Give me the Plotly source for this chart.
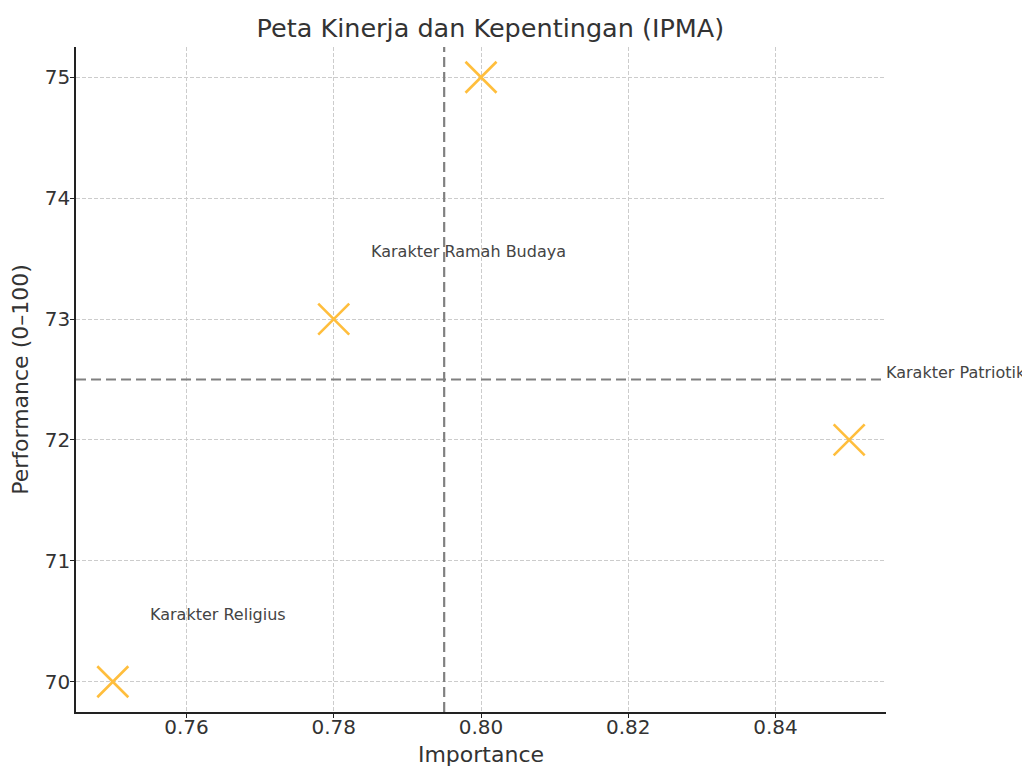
import plotly.graph_objects as go

importance = [0.75, 0.78, 0.80, 0.85]
performance = [70, 73, 75, 72]
labels = [("Karakter Religius", 0.755, 70.5),
          ("Karakter Ramah Budaya", 0.785, 73.5),
          ("Karakter Patriotik", 0.855, 72.5)]
x_mean = 0.795
y_mean = 72.5
x_ticks = [0.76, 0.78, 0.80, 0.82, 0.84]
y_ticks = [70, 71, 72, 73, 74, 75]

FONT = "DejaVu Sans"
TXT = "#333333"
fig = go.Figure()
fig.add_trace(go.Scatter(
    x=importance, y=performance, mode="markers",
    marker=dict(symbol="x-thin-open", size=31, color="#FFBE3C",
                line=dict(width=2.6, color="#FFBE3C")),
    showlegend=False, cliponaxis=False))

fig.add_shape(type="line", xref="x", yref="paper", x0=x_mean, x1=x_mean, y0=0, y1=1,
              line=dict(color="#808080", width=2.2, dash="10px,5px"))
fig.add_shape(type="line", xref="paper", yref="y", x0=0, x1=1, y0=y_mean, y1=y_mean,
              line=dict(color="#808080", width=2.2, dash="10px,5px"))

for t, x, y in labels:
    fig.add_annotation(x=x, y=y, text=t, showarrow=False, xanchor="left",
                       yanchor="middle", yshift=7, xshift=-2,
                       font=dict(family=FONT, size=16, color="#444444"))

axis_common = dict(
    showgrid=True, gridcolor="#cccccc", griddash="4px,2px", gridwidth=1,
    showline=True, linecolor="#222222", linewidth=1.5, mirror=False,
    ticks="outside", ticklen=4, tickcolor="#222222",
    tickfont=dict(size=20, family=FONT, color=TXT),
    zeroline=False, automargin=False)

fig.update_layout(
    width=1022, height=759,
    margin=dict(l=68, r=144, t=39, b=55),
    paper_bgcolor="white", plot_bgcolor="white",
    font=dict(family=FONT, color=TXT),
    title=dict(text="Peta Kinerja dan Kepentingan (IPMA)", x=0.472, xanchor="center",
               y=0.974, yanchor="middle", font=dict(size=25.5, family=FONT, color=TXT)),
    xaxis=dict(range=[0.745, 0.855], tickvals=x_ticks,
               ticktext=[f"{v:.2f}" for v in x_ticks], ticklabelstandoff=-8,
               title=dict(text="Importance", font=dict(size=22, family=FONT, color=TXT)),
               **axis_common),
    yaxis=dict(range=[69.75, 75.25], tickvals=y_ticks, ticklabelstandoff=-4,
               title=dict(text="Performance (0–100)", font=dict(size=22, family=FONT, color=TXT)),
               **axis_common),
)

fig.write_html("out.html")
